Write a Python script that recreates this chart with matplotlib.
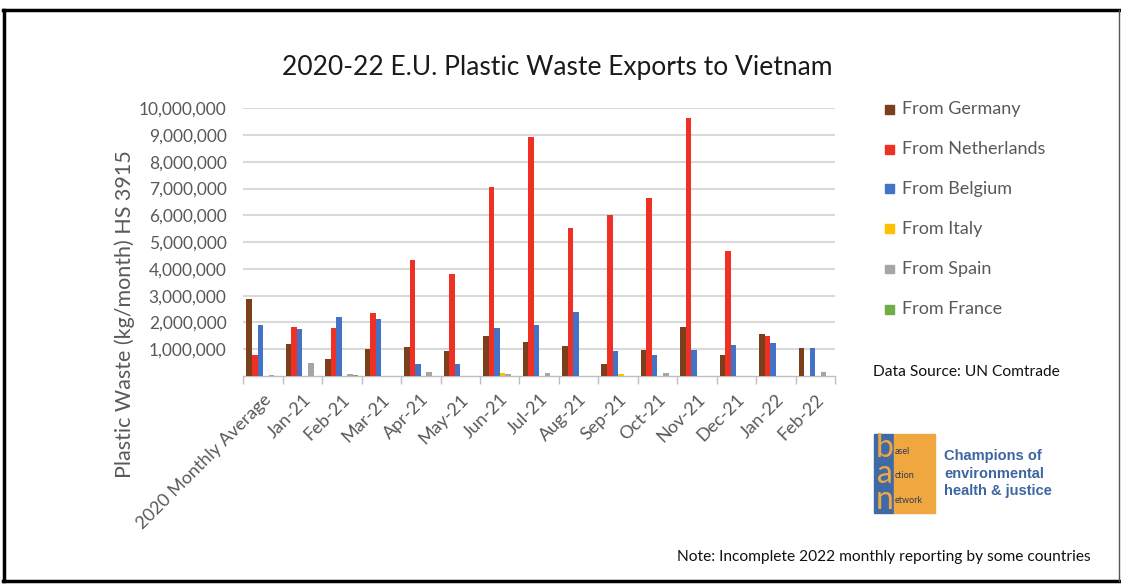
import matplotlib.pyplot as plt
import numpy as np
from matplotlib.patches import Rectangle
from matplotlib.lines import Line2D
from matplotlib.ticker import FuncFormatter

plt.rcParams['font.family'] = ['Lato', 'DejaVu Sans']

months = ['2020 Monthly Average', 'Jan-21', 'Feb-21', 'Mar-21', 'Apr-21', 'May-21',
          'Jun-21', 'Jul-21', 'Aug-21', 'Sep-21', 'Oct-21', 'Nov-21', 'Dec-21',
          'Jan-22', 'Feb-22']

# kg per month, HS 3915
germany = [2880000, 1180000, 640000, 1010000, 1100000, 930000, 1480000, 1270000,
           1130000, 460000, 970000, 1820000, 800000, 1570000, 1060000]
netherlands = [780000, 1820000, 1780000, 2340000, 4330000, 3820000, 7060000, 8920000,
               5520000, 6030000, 6660000, 9640000, 4670000, 1510000, 0]
belgium = [1910000, 1740000, 2200000, 2120000, 450000, 450000, 1780000, 1910000,
           2380000, 920000, 800000, 970000, 1150000, 1220000, 1060000]
italy = [0, 0, 0, 0, 0, 0, 100000, 0, 0, 70000, 0, 0, 0, 0, 0]
spain = [50000, 500000, 70000, 0, 160000, 0, 60000, 110000, 0, 0, 100000, 0, 0, 0, 150000]
france = [0, 0, 40000, 0, 0, 0, 0, 0, 0, 0, 0, 0, 0, 0, 0]

series = [('From Germany', germany, '#7B3F1C'),
          ('From Netherlands', netherlands, '#EE3124'),
          ('From Belgium', belgium, '#4472C4'),
          ('From Italy', italy, '#FFC000'),
          ('From Spain', spain, '#A5A5A5'),
          ('From France', france, '#70AD47')]

W, H = 1121, 585
fig = plt.figure(figsize=(W / 100, H / 100), dpi=100)
ax = fig.add_axes([243.3 / W, 1 - 376 / H, (835 - 243.3) / W, (376 - 108.3) / H])

x = np.arange(len(months))
w = 0.14
for i, (name, vals, col) in enumerate(series):
    ax.bar(x + (i - 2.5) * w, vals, width=w, color=col, label=name, zorder=3)

ax.set_xlim(-0.5, len(months) - 0.5)
ax.set_ylim(0, 10000000)
ax.set_yticks(np.arange(1000000, 10000001, 1000000))
ax.yaxis.set_major_formatter(FuncFormatter(lambda v, p: f'{int(v):,}'))
ax.grid(axis='y', color='#D9D9D9', linewidth=1.5, zorder=0)
ax.tick_params(axis='y', length=0, labelsize=12.5, labelcolor='#595959', pad=12)

ax.set_xticks(x)
ax.set_xticklabels(months, rotation=45, ha='right', rotation_mode='anchor')
ax.set_xticks(np.arange(-0.5, len(months), 1), minor=True)
ax.tick_params(axis='x', which='major', length=0, labelsize=13, labelcolor='#595959', pad=11)
ax.tick_params(axis='x', which='minor', length=6, width=1, color='#BFBFBF')
for s in ['top', 'right', 'left']:
    ax.spines[s].set_visible(False)
ax.spines['bottom'].set_color('#BFBFBF')
ax.spines['bottom'].set_linewidth(1)

fig.text(125 / W, 1 - 314 / H, 'Plastic Waste (kg/month) HS 3915', rotation=90,
         ha='center', va='center', fontsize=15.5, color='#595959')

fig.text(557 / W, 1 - 68 / H, '2020-22 E.U. Plastic Waste Exports to Vietnam',
         ha='center', va='center', fontsize=19, color='#1a1a1a')

# legend drawn as a column of squares and labels
for i, (name, vals, col) in enumerate(series):
    yy = 1 - (109 + 40 * i) / H
    fig.patches.append(Rectangle((885 / W, yy - 4.5 / H), 9 / W, 9 / H, color=col,
                                 transform=fig.transFigure, figure=fig))
    fig.text(902 / W, yy, name, ha='left', va='center', fontsize=13, color='#595959')

fig.text(873 / W, 1 - 372 / H, 'Data Source: UN Comtrade', ha='left', va='center',
         fontsize=11.2, color='#111111')
fig.text(1091 / W, 1 - 557 / H, 'Note: Incomplete 2022 monthly reporting by some countries',
         ha='right', va='center', fontsize=11.2, color='#111111')

# BAN logo
fig.patches.append(Rectangle((874 / W, 1 - 513 / H), 20 / W, 79 / H, color='#3F6AA6',
                             transform=fig.transFigure, figure=fig))
fig.patches.append(Rectangle((894 / W, 1 - 513 / H), 41 / W, 79 / H, color='#F0A740',
                             transform=fig.transFigure, figure=fig))
fig.text(885 / W, 1 - 474 / H, 'b\na\nn', ha='center', va='center', fontsize=23,
         color='#F0A740', linespacing=0.82)
fig.text(895 / W, 1 - 476 / H, 'asel\n\nction\n\network', ha='left', va='center',
         fontsize=6.5, color='#2b3a55', linespacing=1.45)
fig.text(944 / W, 1 - 473.5 / H, 'Champions of\nenvironmental\nhealth & justice',
         ha='left', va='center', fontsize=10.5, fontweight='bold', color='#3D65A0',
         family='Liberation Sans', linespacing=1.35)

# outer frame
fig.lines.append(Line2D([4 / W, 4 / W], [1 - 581 / H, 1 - 10 / H], color='black', lw=2.5,
                        transform=fig.transFigure, figure=fig))
fig.lines.append(Line2D([3 / W, 1119 / W], [1 - 10 / H, 1 - 10 / H], color='black', lw=2.5,
                        transform=fig.transFigure, figure=fig))
fig.lines.append(Line2D([3 / W, 1119 / W], [1 - 581 / H, 1 - 581 / H], color='black', lw=2.5,
                        transform=fig.transFigure, figure=fig))
fig.lines.append(Line2D([1119 / W, 1119 / W], [1 - 581 / H, 1 - 10 / H], color='#555555', lw=1,
                        transform=fig.transFigure, figure=fig))

fig.savefig('out.png', dpi=100)
